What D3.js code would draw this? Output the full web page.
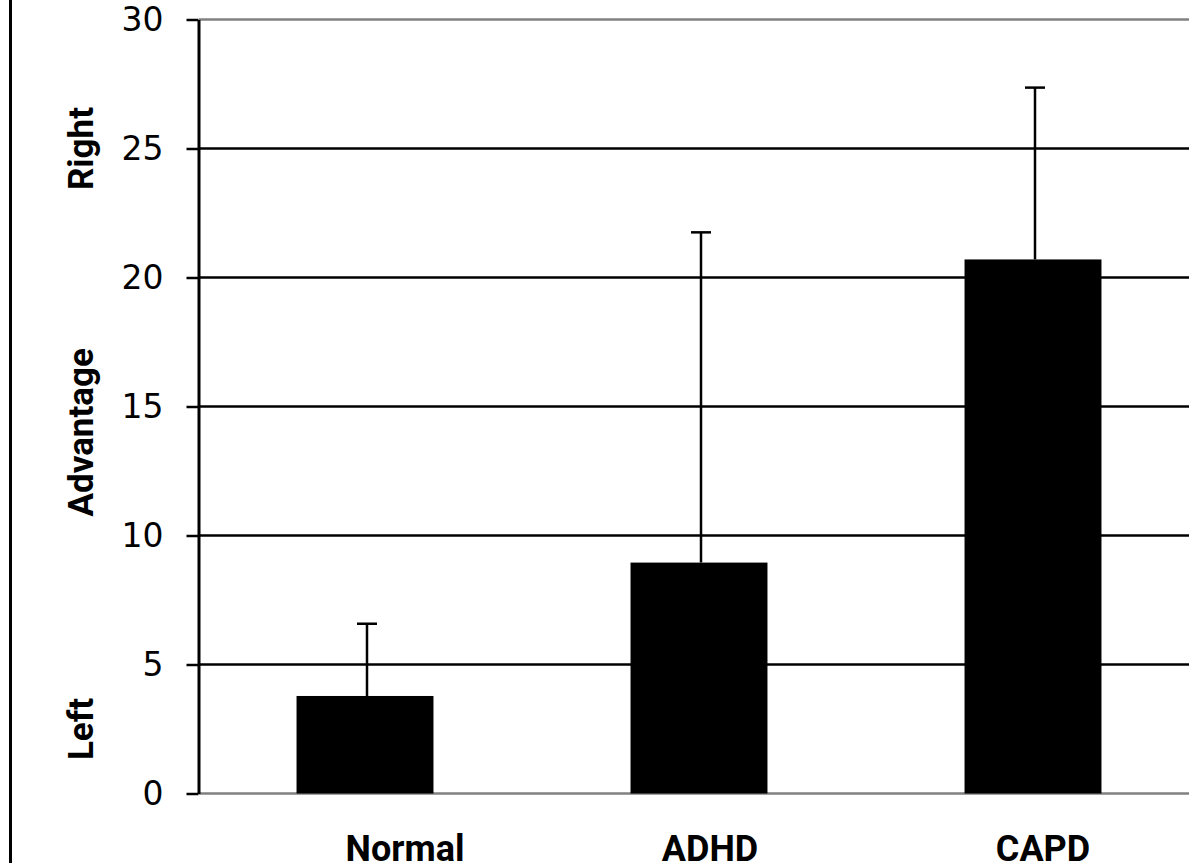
<!DOCTYPE html>
<html><head><meta charset="utf-8">
<script src="https://cdn.jsdelivr.net/npm/d3@7"></script>
<style>html,body{margin:0;padding:0;background:#fff;}svg{display:block;}</style>
</head><body>
<script>
const categories = ["Normal", "ADHD", "CAPD"];
const means = [3.78, 8.95, 20.7];
const errors = [2.8, 12.8, 6.66];
const yTicks = [0, 5, 10, 15, 20, 25, 30];
const yTitleParts = ["Left", "Advantage", "Right"];
const yTitleValues = [2.5, 14, 25];

const W = 1189, H = 863;
const svg = d3.select("body").append("svg").attr("width", W).attr("height", H);

const x = d3.scaleBand().domain(categories).range([198, 1200]).paddingInner(0.59).paddingOuter(0.295);
const y = d3.scaleLinear().domain([0, 30]).range([793.5, 19.5]);
const labelShift = [40, 11, 10];

// left border
svg.append("line").attr("x1", 10.5).attr("x2", 10.5).attr("y1", 0).attr("y2", H)
  .attr("stroke", "#000").attr("stroke-width", 3);

// gridlines
svg.append("g").selectAll("line").data(yTicks).join("line")
  .attr("x1", 199).attr("x2", W).attr("y1", d => y(d)).attr("y2", d => y(d))
  .attr("stroke", d => (d === 0 || d === 30) ? "#808080" : "#000")
  .attr("stroke-width", 2.5);

// y axis
const yAxis = d3.axisLeft(y).tickValues(yTicks).tickSize(12).tickPadding(23).tickSizeOuter(0);
const gy = svg.append("g").attr("transform", "translate(198.5,0)").call(yAxis);
gy.select(".domain").attr("stroke", "#000").attr("stroke-width", 3);
gy.selectAll(".tick line").attr("stroke", "#000").attr("stroke-width", 2.5);
gy.selectAll(".tick text").attr("font-family", "'DejaVu Sans', sans-serif").attr("font-size", 33).attr("fill", "#000");

// bars
svg.append("g").selectAll("rect").data(categories).join("rect")
  .attr("x", d => x(d)).attr("width", x.bandwidth())
  .attr("y", (d, i) => y(means[i])).attr("height", (d, i) => y(0) - y(means[i]))
  .attr("fill", "#000");

// error bars (upper only)
const eg = svg.append("g").attr("stroke", "#000").attr("stroke-width", 2.5);
categories.forEach((c, i) => {
  const cx = x(c) + x.bandwidth() / 2 + 2;
  eg.append("line").attr("x1", cx).attr("x2", cx).attr("y1", y(means[i])).attr("y2", y(means[i] + errors[i]));
  eg.append("line").attr("x1", cx - 10).attr("x2", cx + 10).attr("y1", y(means[i] + errors[i])).attr("y2", y(means[i] + errors[i]));
});

// category labels
svg.append("g").selectAll("text").data(categories).join("text")
  .attr("x", (d, i) => x(d) + x.bandwidth() / 2 + labelShift[i]).attr("y", 861)
  .attr("text-anchor", "middle")
  .attr("font-family", "Roboto, sans-serif").attr("font-weight", "bold").attr("font-size", 36)
  .text(d => d);

// y title parts
svg.append("g").selectAll("text").data(yTitleParts).join("text")
  .attr("transform", (d, i) => `translate(93,${y(yTitleValues[i])}) rotate(-90)`)
  .attr("text-anchor", "middle")
  .attr("font-family", "Roboto, sans-serif").attr("font-weight", "bold").attr("font-size", 35)
  .text(d => d);
</script>
</body></html>
